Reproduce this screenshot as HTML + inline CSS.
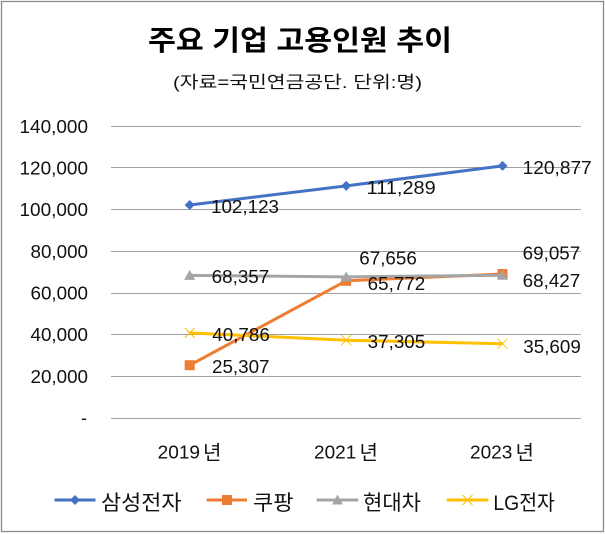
<!DOCTYPE html>
<html>
<head>
<meta charset="utf-8">
<style>
html,body{margin:0;padding:0;background:#fff;}
svg{display:block;}
text{font-family:"Liberation Sans","Noto Sans CJK KR",sans-serif;fill:#111;}
</style>
</head>
<body>
<svg width="605" height="534" viewBox="0 0 605 534" xmlns="http://www.w3.org/2000/svg">
  <rect x="0" y="0" width="605" height="534" fill="#fff"/>
  <rect x="1.5" y="1.5" width="602" height="530" fill="none" stroke="#8a8a8a" stroke-width="1.3"/>

  <!-- Title -->
  <text x="148" y="50" font-size="28" font-weight="bold" textLength="304" lengthAdjust="spacingAndGlyphs" style="fill:#000">주요 기업 고용인원 추이</text>
  <text x="173" y="88" font-size="17" textLength="249" lengthAdjust="spacingAndGlyphs">(자료=국민연금공단. 단위:명)</text>

  <!-- Gridlines -->
  <g stroke="#a0a0a0" stroke-width="1">
    <line x1="111" y1="126.5" x2="581" y2="126.5"/>
    <line x1="111" y1="167.5" x2="581" y2="167.5"/>
    <line x1="111" y1="209.5" x2="581" y2="209.5"/>
    <line x1="111" y1="251.5" x2="581" y2="251.5"/>
    <line x1="111" y1="293.5" x2="581" y2="293.5"/>
    <line x1="111" y1="334.5" x2="581" y2="334.5"/>
    <line x1="111" y1="376.5" x2="581" y2="376.5"/>
    <line x1="111" y1="418.5" x2="581" y2="418.5"/>
  </g>

  <!-- Y axis labels -->
  <g font-size="18" text-anchor="end">
    <text x="88" y="133" textLength="68.5" lengthAdjust="spacingAndGlyphs">140,000</text>
    <text x="88" y="174.5" textLength="68.5" lengthAdjust="spacingAndGlyphs">120,000</text>
    <text x="88" y="216" textLength="68.5" lengthAdjust="spacingAndGlyphs">100,000</text>
    <text x="88" y="258" textLength="57.5" lengthAdjust="spacingAndGlyphs">80,000</text>
    <text x="88" y="299.5" textLength="57.5" lengthAdjust="spacingAndGlyphs">60,000</text>
    <text x="88" y="341" textLength="57.5" lengthAdjust="spacingAndGlyphs">40,000</text>
    <text x="88" y="383" textLength="57.5" lengthAdjust="spacingAndGlyphs">20,000</text>
    <text x="87" y="424">-</text>
  </g>

  <!-- X axis labels -->
  <g font-size="18">
    <text x="157.7" y="458.5" textLength="42.3" lengthAdjust="spacingAndGlyphs">2019</text>
    <text x="203" y="459.5" font-size="20">년</text>
    <text x="314" y="458.5" textLength="42.3" lengthAdjust="spacingAndGlyphs">2021</text>
    <text x="359.5" y="459.5" font-size="20">년</text>
    <text x="470" y="458.5" textLength="42.3" lengthAdjust="spacingAndGlyphs">2023</text>
    <text x="515.5" y="459.5" font-size="20">년</text>
  </g>

  <!-- Samsung -->
  <polyline points="189.7,205 346.2,185.9 502.5,165.9" fill="none" stroke="#4472C4" stroke-width="3" stroke-linejoin="round"/>
  <g fill="#4472C4">
    <polygon points="189.7,200 194.7,205 189.7,210 184.7,205"/>
    <polygon points="346.2,180.9 351.2,185.9 346.2,190.9 341.2,185.9"/>
    <polygon points="502.5,160.9 507.5,165.9 502.5,170.9 497.5,165.9"/>
  </g>

  <!-- Coupang -->
  <polyline points="189.7,365.2 346.2,280.8 502.5,274" fill="none" stroke="#ED7D31" stroke-width="3" stroke-linejoin="round"/>
  <g fill="#ED7D31">
    <rect x="184.7" y="360.2" width="10" height="10"/>
    <rect x="341.2" y="275.8" width="10" height="10"/>
    <rect x="497.5" y="269" width="10" height="10"/>
  </g>

  <!-- Hyundai -->
  <polyline points="189.7,275.4 346.2,276.9 502.5,275.3" fill="none" stroke="#A5A5A5" stroke-width="3" stroke-linejoin="round"/>
  <g fill="#A5A5A5">
    <polygon points="189.7,269.9 195.2,279.9 184.2,279.9"/>
    <polygon points="346.2,271.4 351.7,281.4 340.7,281.4"/>
    <polygon points="502.5,269.8 508,279.8 497,279.8"/>
  </g>

  <!-- LG -->
  <polyline points="189.7,332.9 346.2,340.2 502.5,343.7" fill="none" stroke="#FFC000" stroke-width="3" stroke-linejoin="round"/>
  <g stroke="#FFC000" stroke-width="1">
    <line x1="184.7" y1="327.9" x2="194.7" y2="337.9"/><line x1="194.7" y1="327.9" x2="184.7" y2="337.9"/>
    <line x1="341.2" y1="335.2" x2="351.2" y2="345.2"/><line x1="351.2" y1="335.2" x2="341.2" y2="345.2"/>
    <line x1="497.5" y1="338.7" x2="507.5" y2="348.7"/><line x1="507.5" y1="338.7" x2="497.5" y2="348.7"/>
  </g>

  <!-- Data labels -->
  <g font-size="18">
    <text x="211" y="212.8" textLength="68" lengthAdjust="spacingAndGlyphs">102,123</text>
    <text x="366.7" y="193.8" textLength="69" lengthAdjust="spacingAndGlyphs">111,289</text>
    <text x="522.7" y="173.8" textLength="69" lengthAdjust="spacingAndGlyphs">120,877</text>

    <text x="212" y="373.2" textLength="57.5" lengthAdjust="spacingAndGlyphs">25,307</text>
    <text x="367.7" y="289.8" textLength="57.5" lengthAdjust="spacingAndGlyphs">65,772</text>
    <text x="522.7" y="259.5" textLength="57.5" lengthAdjust="spacingAndGlyphs">69,057</text>

    <text x="211.7" y="282.8" textLength="57.5" lengthAdjust="spacingAndGlyphs">68,357</text>
    <text x="359.3" y="264.5" textLength="57.5" lengthAdjust="spacingAndGlyphs">67,656</text>
    <text x="522.7" y="287.2" textLength="57.5" lengthAdjust="spacingAndGlyphs">68,427</text>

    <text x="212.3" y="341.2" textLength="57.5" lengthAdjust="spacingAndGlyphs">40,786</text>
    <text x="367.7" y="347.8" textLength="57.5" lengthAdjust="spacingAndGlyphs">37,305</text>
    <text x="523.3" y="352.8" textLength="57.5" lengthAdjust="spacingAndGlyphs">35,609</text>
  </g>

  <!-- Legend -->
  <line x1="54.5" y1="500" x2="95.5" y2="500" stroke="#4472C4" stroke-width="3"/>
  <polygon points="75,495 80,500 75,505 70,500" fill="#4472C4"/>
  <text x="101" y="510" font-size="21" textLength="80.5" lengthAdjust="spacingAndGlyphs">삼성전자</text>

  <line x1="206.6" y1="500" x2="247" y2="500" stroke="#ED7D31" stroke-width="3"/>
  <rect x="222" y="495" width="10" height="10" fill="#ED7D31"/>
  <text x="253" y="510" font-size="21" textLength="40.5" lengthAdjust="spacingAndGlyphs">쿠팡</text>

  <line x1="316.6" y1="500" x2="358.3" y2="500" stroke="#A5A5A5" stroke-width="3"/>
  <polygon points="337.5,494.5 343,504.5 332,504.5" fill="#A5A5A5"/>
  <text x="363" y="510" font-size="21" textLength="58" lengthAdjust="spacingAndGlyphs">현대차</text>

  <line x1="446.7" y1="500" x2="488.4" y2="500" stroke="#FFC000" stroke-width="3"/>
  <g stroke="#FFC000" stroke-width="1">
    <line x1="462.5" y1="495" x2="472.5" y2="505"/><line x1="472.5" y1="495" x2="462.5" y2="505"/>
  </g>
  <text x="493.4" y="510" font-size="21" textLength="61.4" lengthAdjust="spacingAndGlyphs">LG전자</text>
</svg>
</body>
</html>
